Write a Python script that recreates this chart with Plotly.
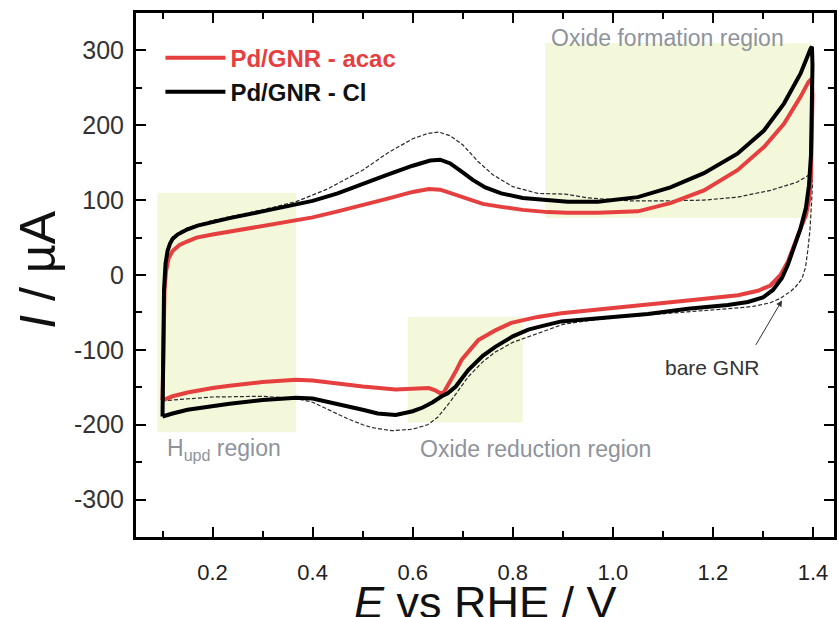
import plotly.graph_objects as go

# ---------------- data ----------------
# Pd/GNR - Cl (black, thick): anodic sweep then cathodic sweep
cl_E_anodic = [0.100, 0.101, 0.103, 0.106, 0.110, 0.115, 0.120, 0.130, 0.150, 0.170, 0.200, 0.234,
               0.300, 0.367, 0.400, 0.450, 0.500, 0.550, 0.600, 0.635, 0.655, 0.675, 0.700, 0.720,
               0.745, 0.777, 0.820, 0.870, 0.910, 0.970, 1.050, 1.115, 1.182, 1.249, 1.302, 1.342,
               1.375, 1.395, 1.398]
cl_I_anodic = [-189, -90, -20, 15, 32, 42, 48, 54, 61, 66, 71, 76,
               85, 95, 99, 109, 122, 134, 146, 153, 154, 149, 137, 127,
               117, 109, 103, 100, 98, 98, 104, 117, 136, 162, 193, 229,
               269, 302, 305]
cl_E_cathodic = [1.399, 1.398, 1.396, 1.392, 1.386, 1.375, 1.362, 1.350, 1.338, 1.320, 1.300, 1.270,
                 1.230, 1.150, 1.070, 1.000, 0.950, 0.897, 0.860, 0.831, 0.800, 0.765, 0.740, 0.711,
                 0.686, 0.670, 0.658, 0.640, 0.620, 0.600, 0.566, 0.530, 0.500, 0.450, 0.400, 0.367,
                 0.300, 0.234, 0.200, 0.150, 0.120, 0.105, 0.100]
cl_I_cathodic = [280, 220, 160, 120, 90, 62, 36, 14, -4, -20, -30, -36,
                 -40, -45, -52, -56, -59, -62, -68, -73, -82, -96, -108, -127,
                 -149, -158, -162, -170, -177, -182, -187, -185, -180, -172, -165, -164,
                 -167, -172, -175, -180, -185, -188, -189]

# Pd/GNR - acac (red, thick)
acac_E_anodic = [0.100, 0.101, 0.102, 0.104, 0.107, 0.112, 0.120, 0.134, 0.150, 0.168, 0.200, 0.234,
                 0.300, 0.367, 0.400, 0.450, 0.500, 0.550, 0.600, 0.632, 0.655, 0.680, 0.711, 0.740,
                 0.777, 0.820, 0.870, 0.910, 0.970, 1.050, 1.115, 1.182, 1.249, 1.302, 1.342, 1.375,
                 1.391, 1.397]
acac_I_anodic = [-167, -100, -50, -20, 5, 22, 32, 40, 45, 50, 54, 58,
                 65, 73, 77, 85, 93, 102, 111, 115, 114, 108, 101, 95,
                 91, 87, 84, 83, 83, 85, 96, 113, 140, 171, 202, 238,
                 258, 262]
acac_E_cathodic = [1.399, 1.398, 1.396, 1.392, 1.386, 1.374, 1.362, 1.350, 1.335, 1.315, 1.290, 1.250,
                   1.150, 1.070, 1.000, 0.897, 0.850, 0.797, 0.765, 0.731, 0.711, 0.698, 0.685, 0.672,
                   0.662, 0.655, 0.645, 0.632, 0.600, 0.566, 0.500, 0.450, 0.400, 0.367, 0.300, 0.234,
                   0.200, 0.150, 0.120, 0.105, 0.100]
acac_I_cathodic = [240, 180, 130, 100, 80, 60, 38, 18, 0, -14, -21, -27,
                   -34, -40, -44, -51, -56, -64, -74, -87, -102, -113, -130, -146,
                   -157, -158, -154, -151, -152, -153, -149, -145, -141, -140, -143, -148,
                   -151, -157, -162, -166, -167]

# bare GNR (thin dashed)
gnr_E_anodic = [0.100, 0.101, 0.103, 0.106, 0.110, 0.115, 0.120, 0.135, 0.150, 0.200, 0.300, 0.367,
                0.430, 0.500, 0.550, 0.600, 0.630, 0.652, 0.675, 0.700, 0.730, 0.760, 0.800, 0.850,
                0.905, 0.950, 1.036, 1.100, 1.182, 1.249, 1.315, 1.368, 1.394, 1.398]
gnr_I_anodic = [-168, -90, -20, 18, 35, 45, 51, 58, 63, 73, 87, 98,
                115, 140, 163, 182, 189, 191, 186, 174, 152, 134, 118, 109,
                108, 103, 99, 99, 100, 104, 113, 124, 134, 136]
gnr_E_cathodic = [1.399, 1.397, 1.394, 1.390, 1.385, 1.378, 1.365, 1.355, 1.335, 1.315, 1.280, 1.250,
                  1.150, 1.050, 1.000, 0.950, 0.900, 0.850, 0.800, 0.765, 0.740, 0.711, 0.690, 0.672,
                  0.650, 0.630, 0.600, 0.558, 0.520, 0.500, 0.470, 0.433, 0.400, 0.367, 0.300, 0.200,
                  0.150, 0.120, 0.100]
gnr_I_cathodic = [120, 90, 60, 35, 10, -5, -16, -22, -31, -37, -42, -44,
                  -49, -54, -57, -61, -66, -78, -90, -103, -116, -136, -155, -172,
                  -190, -200, -206, -208, -204, -200, -192, -180, -170, -165, -162, -163,
                  -165, -167, -168]

series_names = ["Pd/GNR - acac", "Pd/GNR - Cl"]

# shaded regions: (E_min, E_max, I_min, I_max)
region_hupd = [0.090, 0.367, -210, 110]
region_oxred = [0.590, 0.820, -197, -56]
region_oxform = [0.865, 1.395, 76, 310]

x_tickvals = [0.2, 0.4, 0.6, 0.8, 1.0, 1.2, 1.4]
x_ticktext = ["0.2", "0.4", "0.6", "0.8", "1.0", "1.2", "1.4"]
y_tickvals = [-300, -200, -100, 0, 100, 200, 300]
y_ticktext = ["-300", "-200", "-100", "0", "100", "200", "300"]

# ---------------- figure ----------------
FONT = "Liberation Sans, Arial, Helvetica, sans-serif"
RED = "#e5403f"
GRAY = "#8e939c"
SHADE = "#f3f8da"

fig = go.Figure()

fig.add_trace(go.Scatter(
    x=gnr_E_anodic + gnr_E_cathodic, y=gnr_I_anodic + gnr_I_cathodic,
    mode="lines", line=dict(color="#2a2a2a", width=1.2, dash="4px,2px"),
    showlegend=False, name="bare GNR"))
fig.add_trace(go.Scatter(
    x=acac_E_anodic + acac_E_cathodic, y=acac_I_anodic + acac_I_cathodic,
    mode="lines", line=dict(color=RED, width=4),
    name=f"<b><span style='color:{RED}'>{series_names[0]}</span></b>"))
fig.add_trace(go.Scatter(
    x=cl_E_anodic + cl_E_cathodic, y=cl_I_anodic + cl_I_cathodic,
    mode="lines", line=dict(color="#000000", width=4),
    name=f"<b>{series_names[1]}</b>"))

for r in (region_hupd, region_oxred, region_oxform):
    fig.add_shape(type="rect", xref="x", yref="y", x0=r[0], x1=r[1], y0=r[2], y1=r[3],
                  fillcolor=SHADE, line=dict(width=0), layer="below")

label_font = dict(family=FONT, size=23, color=GRAY)
fig.add_annotation(x=1.110, y=317, xref="x", yref="y",
                   text="Oxide formation region", showarrow=False, font=label_font)
fig.add_annotation(x=0.845, y=-233, xref="x", yref="y",
                   text="Oxide reduction region", showarrow=False, font=label_font)
fig.add_annotation(x=0.222, y=-233, xref="x", yref="y",
                   text="H<sub>upd</sub> region", showarrow=False, font=label_font)

# bare GNR label with arrow
fig.add_annotation(x=1.2, y=-124, xref="x", yref="y", text="bare GNR", showarrow=False,
                   font=dict(family=FONT, size=21, color="#333333"))
fig.add_annotation(x=1.338, y=-34, xref="x", yref="y", text="", showarrow=True,
                   ax=-27, ay=46, arrowhead=2, arrowsize=1.2, arrowwidth=1, arrowcolor="#333333")

# axis titles
fig.add_annotation(x=0.5 * (0.047 + 1.442), y=0, xref="x", yref="paper", yanchor="middle",
                   yshift=-65, text="<i>E</i> vs RHE / V", showarrow=False,
                   font=dict(family=FONT, size=45, color="#111111"))
fig.add_annotation(x=0, y=0.51, xref="paper", yref="paper",
                   xanchor="center", xshift=-98, textangle=-90,
                   text="<i>I</i> / µA", showarrow=False,
                   font=dict(family=FONT, size=50, color="#111111"))

axis_common = dict(showline=True, linewidth=3, linecolor="#000000", mirror="allticks",
                   ticks="inside", ticklen=10, tickwidth=2, tickcolor="#000000",
                   showgrid=False, zeroline=False)

fig.update_xaxes(range=[0.047, 1.442], tickvals=x_tickvals, ticktext=x_ticktext,
                 tickfont=dict(family=FONT, size=22, color="#222222"),
                 ticklabelstandoff=14,
                 minor=dict(ticks="inside", ticklen=6, tickwidth=2, tickcolor="#000000",
                            dtick=0.1, tick0=0, showgrid=False),
                 **axis_common)
fig.update_yaxes(range=[-350, 350], tickvals=y_tickvals, ticktext=y_ticktext,
                 tickfont=dict(family=FONT, size=25, color="#333333"),
                 ticklabelstandoff=4,
                 minor=dict(ticks="inside", ticklen=6, tickwidth=2, tickcolor="#000000",
                            dtick=50, tick0=0, showgrid=False),
                 **axis_common)

fig.update_layout(
    width=839, height=617,
    margin=dict(l=136, r=2, t=13, b=80),
    paper_bgcolor="white", plot_bgcolor="white",
    font=dict(family=FONT),
    legend=dict(x=0.035, y=0.957, xanchor="left", yanchor="top",
                bgcolor="rgba(0,0,0,0)", itemwidth=60,
                font=dict(family=FONT, size=24, color="#111111"),
                tracegroupgap=0),
)

fig.write_html("out.html", config={"displayModeBar": False},
               post_script="document.body.style.margin='0';document.body.style.padding='0';")
